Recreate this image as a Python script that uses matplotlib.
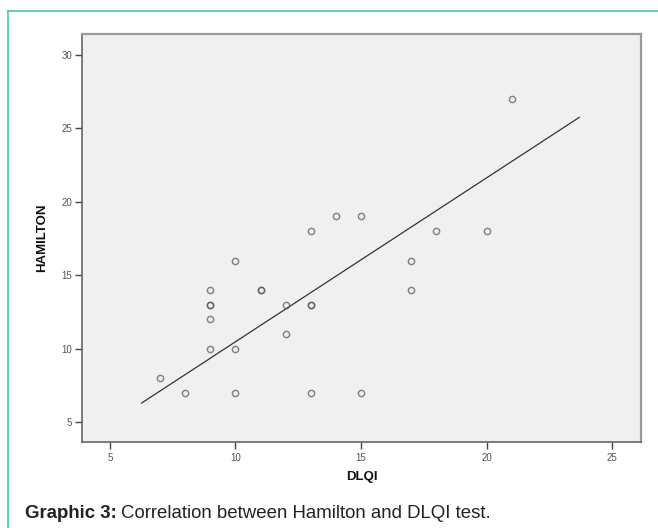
import matplotlib
matplotlib.use('Agg')
import matplotlib.pyplot as plt
from matplotlib.lines import Line2D

plt.rcParams['font.family'] = ['Liberation Sans', 'DejaVu Sans']

# DLQI vs HAMILTON scores
dlqi = [7, 8, 9, 9, 9, 9, 9, 10, 10, 10, 11, 11, 12, 12, 13, 13, 13, 13,
        14, 15, 15, 17, 17, 18, 20, 21]
hamilton = [8, 7, 14, 13, 13, 12, 10, 16, 10, 7, 14, 14, 13, 11, 18, 13, 13, 7,
            19, 19, 7, 16, 14, 18, 18, 27]

# fit line end points as drawn in the chart
fit_x = [6.26, 23.69]
fit_y = [6.29, 25.75]

x_ticks = [5, 10, 15, 20, 25]
y_ticks = [5, 10, 15, 20, 25, 30]

W, H = 658, 528
fig = plt.figure(figsize=(W / 100, H / 100), dpi=100)
fig.patch.set_facecolor('white')

# axes box in pixels: left 82, right 641, top 34, bottom 442
ax = fig.add_axes([82 / W, 1 - 442 / H, (641 - 82) / W, (442 - 34) / H])
ax.set_facecolor('#f0f0f0')

ax.plot(fit_x, fit_y, color='#333333', linewidth=0.9, zorder=2)
ax.plot(dlqi, hamilton, linestyle='none', marker='o', markersize=4.5,
        markerfacecolor='none', markeredgecolor='#555555', markeredgewidth=1.05,
        alpha=0.7, zorder=3)

ax.set_xlim(3.89, 26.15)
ax.set_ylim(3.64, 31.43)
ax.set_xticks(x_ticks)
ax.set_yticks(y_ticks)
ax.tick_params(axis='both', direction='out', length=5, width=1.0,
               color='#444444', labelsize=7, labelcolor='#555555')
ax.tick_params(axis='x', pad=3)
ax.tick_params(axis='y', pad=2)

for side in ['left', 'bottom']:
    ax.spines[side].set_color('#666666')
    ax.spines[side].set_linewidth(1.2)
for side in ['top', 'right']:
    ax.spines[side].set_color('#999999')
    ax.spines[side].set_linewidth(1.6)

fig.text(42 / W, 1 - 238 / H, 'HAMILTON', rotation=90, fontsize=9.5,
         fontweight='bold', ha='center', va='center', color='#111111')
fig.text(362 / W, 1 - 477 / H, 'DLQI', fontsize=9.5, fontweight='bold',
         ha='center', va='center', color='#111111')

# outer teal frame (top and left edges)
fig.add_artist(Line2D([8 / W, 1], [1 - 11 / H, 1 - 11 / H],
                      transform=fig.transFigure, color='#4fc3b0', linewidth=1.2))
fig.add_artist(Line2D([8 / W, 8 / W], [1 - 11 / H, 0],
                      transform=fig.transFigure, color='#4fc3b0', linewidth=1.2))

# caption
cap = fig.text(25 / W, 1 - 513 / H, 'Graphic 3:', fontsize=13.4,
               fontweight='bold', ha='left', va='center', color='#222222')
fig.canvas.draw()
bb = cap.get_window_extent()
fig.text(bb.x1 / W + 0.007, 1 - 513 / H,
         'Correlation between Hamilton and DLQI test.', fontsize=13.4,
         ha='left', va='center', color='#222222')

plt.savefig('out.png', dpi=100)
